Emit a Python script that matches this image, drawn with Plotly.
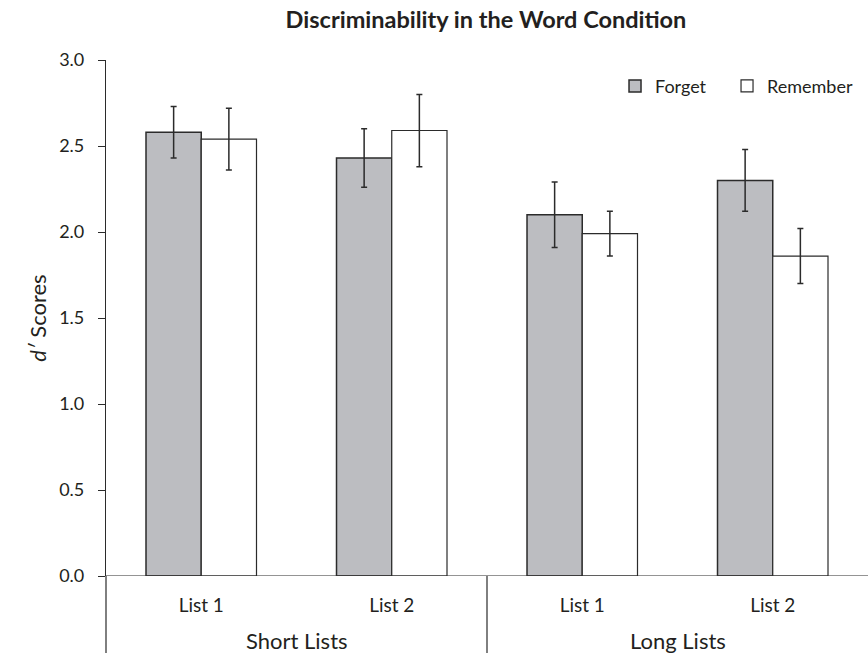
import plotly.graph_objects as go

groups = ["Short Lists", "Long Lists"]
lists = ["List 1", "List 2", "List 1", "List 2"]
forget = [2.58, 2.43, 2.10, 2.30]
forget_err = [0.15, 0.17, 0.19, 0.18]
remember = [2.54, 2.59, 1.99, 1.86]
remember_err = [0.18, 0.21, 0.13, 0.16]
yticks = [0.0, 0.5, 1.0, 1.5, 2.0, 2.5, 3.0]

xpos = list(range(len(lists)))
FONT = "Lato"
DARK = "#2b2b2b"

fig = go.Figure()
fig.add_trace(go.Bar(
    x=xpos, y=forget, name="Forget", legend="legend",
    marker=dict(color="#bcbdc1", line=dict(color=DARK, width=1.5)),
    error_y=dict(type="data", array=forget_err, color=DARK, thickness=1.5, width=3),
))
fig.add_trace(go.Bar(
    x=xpos, y=remember, name="Remember", legend="legend2",
    marker=dict(color="white", line=dict(color=DARK, width=1.2)),
    error_y=dict(type="data", array=remember_err, color=DARK, thickness=1.5, width=3),
))

W, H = 868, 653
L, R, T, B = 106, 0, 60, 77
ph = H - T - B

leg_common = dict(orientation="h", y=0.985, xanchor="left", yanchor="top",
                  font=dict(size=18), bgcolor="rgba(0,0,0,0)", itemwidth=30)

fig.update_layout(
    width=W, height=H,
    margin=dict(l=L, r=R, t=T, b=B, autoexpand=False),
    paper_bgcolor="white", plot_bgcolor="white",
    barmode="group", bargap=0.42, bargroupgap=0,
    font=dict(family=FONT, color="#231f20", size=17),
    title=dict(text="<b>Discriminability in the Word Condition</b>",
               x=486 / W, xanchor="center", y=1 - 20 / H, yanchor="middle",
               font=dict(size=23.5, family=FONT)),
    showlegend=True,
    legend=dict(x=0.668, **leg_common),
    legend2=dict(x=0.815, **leg_common),
    xaxis=dict(range=[-0.5, 3.5], tickvals=xpos, ticktext=lists, showline=False,
               ticks="", showgrid=False, zeroline=False, tickfont=dict(size=19),
               ticklabelstandoff=16, automargin=False),
    yaxis=dict(range=[0, 3.0], tickvals=yticks, tickformat=".1f", showgrid=False,
               zeroline=False, showline=True, linecolor=DARK, linewidth=1.2,
               ticks="outside", ticklen=7, tickcolor=DARK, tickwidth=1.2,
               tickfont=dict(size=18), ticklabelstandoff=10, automargin=False,
               title=dict(text="<i>d′</i> Scores", font=dict(size=22), standoff=6)),
)

# x-axis baseline
fig.add_shape(type="line", xref="paper", yref="y", x0=0, x1=1, y0=0, y1=0,
              line=dict(color=DARK, width=1.2))
# y-axis extension below plot
fig.add_shape(type="line", xref="paper", yref="paper", x0=0, x1=0, y0=0, y1=-B / ph,
              line=dict(color=DARK, width=1.2))
# group divider
fig.add_shape(type="line", xref="x", yref="paper", x0=1.5, x1=1.5, y0=0, y1=-B / ph,
              line=dict(color=DARK, width=1.2))
# group labels
for i, g in enumerate(groups):
    fig.add_annotation(text=g, x=0.5 + 2 * i, xref="x", y=-64 / ph, yref="paper",
                       showarrow=False, yanchor="middle", font=dict(size=22))

fig.write_html("out.html", config={"displayModeBar": False},
               post_script="document.body.style.margin='0';")
